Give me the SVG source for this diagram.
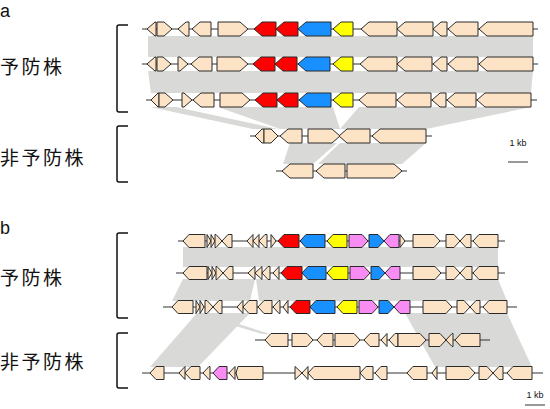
<svg xmlns="http://www.w3.org/2000/svg" width="550" height="409" viewBox="0 0 550 409">
<style>
.c{fill:#fde3c6;stroke:#2b2b2b;stroke-width:1;stroke-linejoin:round}
.r{fill:#ff0000}
.b{fill:#1890ff}
.y{fill:#ffff00}
.p{fill:#f98cf2}
.ln{stroke:#333;stroke-width:1;fill:none}
.band{fill:#d9d9d7}
.br{fill:none;stroke:#111;stroke-width:1.5}
.lab{font-family:"Noto Sans CJK JP","Noto Sans CJK SC",sans-serif;font-size:19px;letter-spacing:2.5px;fill:#111}
.pl{font-family:"Liberation Sans",Arial,sans-serif;font-size:18px;fill:#111}
.kb{font-family:"Liberation Sans",Arial,sans-serif;font-size:9px;fill:#111;text-anchor:middle}
</style>
<text class="pl" x="0" y="17">a</text>
<text class="pl" x="0" y="234">b</text>
<g id="labels">
<text class="lab" x="0" y="74">予防株</text>
<text class="lab" x="0" y="165">非予防株</text>
<text class="lab" x="0" y="285">予防株</text>
<text class="lab" x="0" y="369">非予防株</text>
<path class="br" d="M128,25 H119 Q117,25 117,27 V110 Q117,112 119,112 H128"/>
<path class="br" d="M128,126 H119 Q117,126 117,128 V180 Q117,182 119,182 H128"/>
<path class="br" d="M128,233 H119 Q117,233 117,235 V316 Q117,318 119,318 H128"/>
<path class="br" d="M128,333 H119 Q117,333 117,335 V386 Q117,388 119,388 H128"/>
</g>
<g id="connectors">
<polygon class="band" points="148,36 533,36 533,57 148,57"/>
<polygon class="band" points="148,71 533,71 531,93 151,93"/>
<polygon class="band" points="150,107 176,107 278,129 253,129"/>
<polygon class="band" points="218,107 333,107 340,129 280,129"/>
<polygon class="band" points="359,107 531,107 426,129 340,129"/>
<polygon class="band" points="290,143 337,143 313,164 283,164"/>
<polygon class="band" points="340,143 426,143 402,164 318,164"/>
<polygon class="band" points="183,247 498,247 498,267 183,267"/>
<polygon class="band" points="183,279 255,279 250,301 172,301"/>
<polygon class="band" points="256,279 498,279 507,301 259,301"/>
<polygon class="band" points="197,313 250,313 198,367 150,367"/>
<polygon class="band" points="193,313 204,313 270,334 262,334"/>
<polygon class="band" points="405,313 507,313 532,367 435,367"/>
</g>
<g id="a-row1" transform="translate(0,29)">
<path class="ln" d="M142,0H538"/>
<polygon class="c" points="147,0 155,-7 156,-7 156,7 155,7"/>
<polygon class="c" points="157,-7 164,-7 172,0 164,7 157,7"/>
<polygon class="c" points="178,0 186,-7 189,-7 189,7 186,7"/>
<polygon class="c" points="192,0 200,-7 211,-7 211,7 200,7"/>
<polygon class="c" points="218,-7 240,-7 248,0 240,7 218,7"/>
<polygon class="c r" points="254,0 262,-7 276,-7 276,7 262,7"/>
<polygon class="c r" points="276,0 284,-7 298,-7 298,7 284,7"/>
<polygon class="c b" points="298,0 306,-7 331,-7 331,7 306,7"/>
<polygon class="c y" points="333,0 341,-7 353,-7 353,7 341,7"/>
<polygon class="c" points="361,0 369,-7 397,-7 397,7 369,7"/>
<polygon class="c" points="397,0 405,-7 433,-7 433,7 405,7"/>
<polygon class="c" points="433,0 441,-7 447,-7 447,7 441,7"/>
<polygon class="c" points="448,0 456,-7 478,-7 478,7 456,7"/>
<polygon class="c" points="479,0 487,-7 533,-7 533,7 487,7"/>
</g>
<g id="a-row2" transform="translate(0,64)">
<path class="ln" d="M142,0H538"/>
<polygon class="c" points="147,0 155,-7 156,-7 156,7 155,7"/>
<polygon class="c" points="157,-7 163,-7 171,0 163,7 157,7"/>
<polygon class="c" points="178,-7 180,-7 188,0 180,7 178,7"/>
<polygon class="c" points="191,0 199,-7 212,-7 212,7 199,7"/>
<polygon class="c" points="217,-7 240,-7 248,0 240,7 217,7"/>
<polygon class="c r" points="253,0 261,-7 275,-7 275,7 261,7"/>
<polygon class="c r" points="275,0 283,-7 297,-7 297,7 283,7"/>
<polygon class="c b" points="298,0 306,-7 330,-7 330,7 306,7"/>
<polygon class="c y" points="333,0 341,-7 353,-7 353,7 341,7"/>
<polygon class="c" points="360,0 368,-7 397,-7 397,7 368,7"/>
<polygon class="c" points="397,0 405,-7 432,-7 432,7 405,7"/>
<polygon class="c" points="433,0 441,-7 447,-7 447,7 441,7"/>
<polygon class="c" points="448,0 456,-7 478,-7 478,7 456,7"/>
<polygon class="c" points="479,0 487,-7 533,-7 533,7 487,7"/>
</g>
<g id="a-row3" transform="translate(0,100)">
<path class="ln" d="M146,0H537"/>
<polygon class="c" points="151,0 158,-7 159,-7 159,7 158,7"/>
<polygon class="c" points="159,-7 165,-7 173,0 165,7 159,7"/>
<polygon class="c" points="182,-7 184,-7 192,0 184,7 182,7"/>
<polygon class="c" points="193,0 201,-7 214,-7 214,7 201,7"/>
<polygon class="c" points="220,-7 242,-7 250,0 242,7 220,7"/>
<polygon class="c r" points="255,0 263,-7 277,-7 277,7 263,7"/>
<polygon class="c r" points="277,0 285,-7 298,-7 298,7 285,7"/>
<polygon class="c b" points="299,0 307,-7 331,-7 331,7 307,7"/>
<polygon class="c y" points="333,0 341,-7 353,-7 353,7 341,7"/>
<polygon class="c" points="359,0 367,-7 396,-7 396,7 367,7"/>
<polygon class="c" points="397,0 405,-7 431,-7 431,7 405,7"/>
<polygon class="c" points="432,0 440,-7 446,-7 446,7 440,7"/>
<polygon class="c" points="447,0 455,-7 476,-7 476,7 455,7"/>
<polygon class="c" points="477,0 485,-7 531,-7 531,7 485,7"/>
</g>
<g id="a-np1" transform="translate(0,136)">
<path class="ln" d="M250,0H432"/>
<polygon class="c" points="255,0 262,-7 264,-7 264,7 262,7"/>
<polygon class="c" points="264,-7 271,-7 278,0 271,7 264,7"/>
<polygon class="c" points="280,0 288,-7 302,-7 302,7 288,7"/>
<polygon class="c" points="308,-7 332,-7 340,0 332,7 308,7"/>
<polygon class="c" points="339,0 347,-7 370,-7 370,7 347,7"/>
<polygon class="c" points="372,0 380,-7 426,-7 426,7 380,7"/>
</g>
<g id="a-np2" transform="translate(0,171)">
<path class="ln" d="M276,0H407"/>
<polygon class="c" points="282,0 290,-7 313,-7 313,7 290,7"/>
<polygon class="c" points="316,0 324,-7 345,-7 345,7 324,7"/>
<polygon class="c" points="347,-7 394,-7 402,0 394,7 347,7"/>
</g>
<g id="scale-a">
<text class="kb" x="518" y="146">1 kb</text>
<path class="ln" d="M508,162H528"/>
</g>
<g id="b-row1" transform="translate(0,241)">
<path class="ln" d="M178,0H505"/>
<polygon class="c" points="183,0 189,-6.5 205,-6.5 205,6.5 189,6.5"/>
<polygon class="c" points="207,-6.5 211,0 207,6.5"/>
<polygon class="c" points="211,-6.5 215,0 211,6.5"/>
<polygon class="c" points="215,-6.5 216,-6.5 222,0 216,6.5 215,6.5"/>
<polygon class="c" points="222,0 228,-6.5 232,-6.5 232,6.5 228,6.5"/>
<polygon class="c" points="247,0 253,-6.5 253,6.5"/>
<polygon class="c" points="253,0 259,-6.5 259,6.5"/>
<polygon class="c" points="259,0 265,-6.5 267,-6.5 267,6.5 265,6.5"/>
<polygon class="c" points="271,-6.5 276,0 271,6.5"/>
<polygon class="c r" points="278,0 284,-6.5 299,-6.5 299,6.5 284,6.5"/>
<polygon class="c b" points="300,0 306,-6.5 325,-6.5 325,6.5 306,6.5"/>
<polygon class="c y" points="327,0 333,-6.5 347,-6.5 347,6.5 333,6.5"/>
<polygon class="c p" points="349,-6.5 362,-6.5 368,0 362,6.5 349,6.5"/>
<polygon class="c b" points="369,-6.5 378,-6.5 384,0 378,6.5 369,6.5"/>
<polygon class="c p" points="384,0 390,-6.5 399,-6.5 399,6.5 390,6.5"/>
<polygon class="c" points="400,-6.5 405,0 400,6.5"/>
<polygon class="c" points="413,-6.5 434,-6.5 440,0 434,6.5 413,6.5"/>
<polygon class="c" points="446,-6.5 454,-6.5 460,0 454,6.5 446,6.5"/>
<polygon class="c" points="460,0 466,-6.5 471,-6.5 471,6.5 466,6.5"/>
<polygon class="c" points="473,0 479,-6.5 498,-6.5 498,6.5 479,6.5"/>
</g>
<g id="b-row2" transform="translate(0,273)">
<path class="ln" d="M176,0H505"/>
<polygon class="c" points="183,0 189,-6.5 207,-6.5 207,6.5 189,6.5"/>
<polygon class="c" points="208,-6.5 212,0 208,6.5"/>
<polygon class="c" points="212,-6.5 216,0 212,6.5"/>
<polygon class="c" points="216,-6.5 217,-6.5 223,0 217,6.5 216,6.5"/>
<polygon class="c" points="223,0 229,-6.5 233,-6.5 233,6.5 229,6.5"/>
<polygon class="c" points="248,0 255,-6.5 255,6.5"/>
<polygon class="c" points="255,0 262,-6.5 262,6.5"/>
<polygon class="c" points="262,0 268,-6.5 270,-6.5 270,6.5 268,6.5"/>
<polygon class="c" points="273,0 279,-6.5 279,6.5"/>
<polygon class="c r" points="281,0 287,-6.5 302,-6.5 302,6.5 287,6.5"/>
<polygon class="c b" points="302,0 308,-6.5 326,-6.5 326,6.5 308,6.5"/>
<polygon class="c y" points="327,0 333,-6.5 348,-6.5 348,6.5 333,6.5"/>
<polygon class="c p" points="350,-6.5 364,-6.5 370,0 364,6.5 350,6.5"/>
<polygon class="c b" points="371,-6.5 379,-6.5 385,0 379,6.5 371,6.5"/>
<polygon class="c p" points="385,0 391,-6.5 400,-6.5 400,6.5 391,6.5"/>
<polygon class="c" points="413,-6.5 435,-6.5 441,0 435,6.5 413,6.5"/>
<polygon class="c" points="446,-6.5 454,-6.5 460,0 454,6.5 446,6.5"/>
<polygon class="c" points="460,0 466,-6.5 472,-6.5 472,6.5 466,6.5"/>
<polygon class="c" points="473,0 479,-6.5 498,-6.5 498,6.5 479,6.5"/>
</g>
<g id="b-row3" transform="translate(0,307)">
<path class="ln" d="M163,0H517"/>
<polygon class="c" points="172,0 178,-6.5 193,-6.5 193,6.5 178,6.5"/>
<polygon class="c" points="196,-6.5 200,0 196,6.5"/>
<polygon class="c" points="200,-6.5 204,0 200,6.5"/>
<polygon class="c" points="205,-6.5 207,-6.5 213,0 207,6.5 205,6.5"/>
<polygon class="c" points="213,0 219,-6.5 222,-6.5 222,6.5 219,6.5"/>
<polygon class="c" points="237,0 243,-6.5 243,6.5"/>
<polygon class="c" points="243,0 249,-6.5 257,-6.5 257,6.5 249,6.5"/>
<polygon class="c" points="258,0 264,-6.5 272,-6.5 272,6.5 264,6.5"/>
<polygon class="c" points="273,0 279,-6.5 280,-6.5 280,6.5 279,6.5"/>
<polygon class="c" points="283,0 288,-6.5 288,6.5"/>
<polygon class="c r" points="290,0 296,-6.5 310,-6.5 310,6.5 296,6.5"/>
<polygon class="c b" points="310,0 316,-6.5 335,-6.5 335,6.5 316,6.5"/>
<polygon class="c y" points="337,0 343,-6.5 357,-6.5 357,6.5 343,6.5"/>
<polygon class="c p" points="359,-6.5 372,-6.5 378,0 372,6.5 359,6.5"/>
<polygon class="c b" points="379,-6.5 388,-6.5 394,0 388,6.5 379,6.5"/>
<polygon class="c p" points="394,0 400,-6.5 410,-6.5 410,6.5 400,6.5"/>
<polygon class="c" points="423,-6.5 446,-6.5 452,0 446,6.5 423,6.5"/>
<polygon class="c" points="457,-6.5 464,-6.5 470,0 464,6.5 457,6.5"/>
<polygon class="c" points="470,0 476,-6.5 480,-6.5 480,6.5 476,6.5"/>
<polygon class="c" points="483,0 489,-6.5 507,-6.5 507,6.5 489,6.5"/>
</g>
<g id="b-np1" transform="translate(0,340)">
<path class="ln" d="M255,0H490"/>
<polygon class="c" points="265,0 271,-6.5 288,-6.5 288,6.5 271,6.5"/>
<polygon class="c" points="292,-6.5 307,-6.5 313,0 307,6.5 292,6.5"/>
<polygon class="c" points="317,0 323,-6.5 333,-6.5 333,6.5 323,6.5"/>
<polygon class="c" points="335,-6.5 354,-6.5 360,0 354,6.5 335,6.5"/>
<polygon class="c" points="364,0 370,-6.5 379,-6.5 379,6.5 370,6.5"/>
<polygon class="c" points="381,0 387,-6.5 387,6.5"/>
<polygon class="c" points="389,0 395,-6.5 398,-6.5 398,6.5 395,6.5"/>
<polygon class="c" points="398,-6.5 420,-6.5 426,0 420,6.5 398,6.5"/>
<polygon class="c" points="429,-6.5 440,-6.5 446,0 440,6.5 429,6.5"/>
<polygon class="c" points="446,0 452,-6.5 453,-6.5 453,6.5 452,6.5"/>
<polygon class="c" points="455,0 461,-6.5 480,-6.5 480,6.5 461,6.5"/>
</g>
<g id="b-np2" transform="translate(0,373)">
<path class="ln" d="M142,0H543"/>
<polygon class="c" points="150,0 156,-6.5 164,-6.5 164,6.5 156,6.5"/>
<polygon class="c" points="179,0 185,-6.5 185,6.5"/>
<polygon class="c" points="185,0 191,-6.5 200,-6.5 200,6.5 191,6.5"/>
<polygon class="c" points="203,0 209,-6.5 210,-6.5 210,6.5 209,6.5"/>
<polygon class="c p" points="213,0 219,-6.5 227,-6.5 227,6.5 219,6.5"/>
<polygon class="c" points="229,0 235,-6.5 235,6.5"/>
<polygon class="c" points="236,0 238,-6.5 263,-6.5 263,6.5 238,6.5"/>
<polygon class="c" points="295,-6.5 302,0 295,6.5"/>
<polygon class="c" points="302,0 308,-6.5 308,6.5"/>
<polygon class="c" points="308,0 314,-6.5 360,-6.5 360,6.5 314,6.5"/>
<polygon class="c" points="360,0 366,-6.5 373,-6.5 373,6.5 366,6.5"/>
<polygon class="c" points="375,0 381,-6.5 387,-6.5 387,6.5 381,6.5"/>
<polygon class="c" points="407,0 413,-6.5 427,-6.5 427,6.5 413,6.5"/>
<polygon class="c" points="432,0 437,-6.5 437,6.5"/>
<polygon class="c" points="446,-6.5 469,-6.5 475,0 469,6.5 446,6.5"/>
<polygon class="c" points="479,-6.5 487,-6.5 493,0 487,6.5 479,6.5"/>
<polygon class="c" points="493,0 499,-6.5 503,-6.5 503,6.5 499,6.5"/>
<polygon class="c" points="507,0 513,-6.5 532,-6.5 532,6.5 513,6.5"/>
</g>
<g id="scale-b">
<text class="kb" x="535" y="398">1 kb</text>
<path class="ln" d="M525,405H545"/>
</g>
</svg>
